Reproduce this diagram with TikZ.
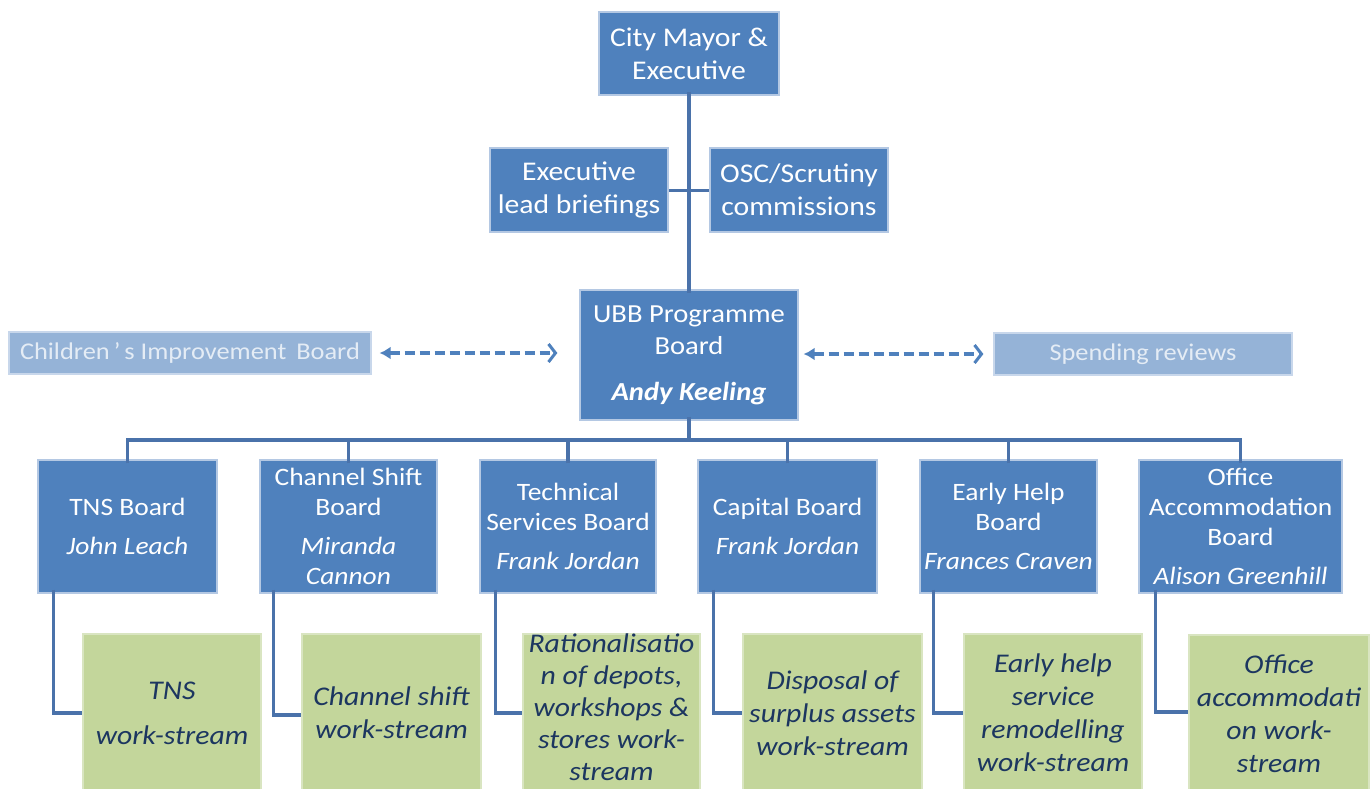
\documentclass[tikz,border=0pt]{standalone}
\usepackage{fontspec}
\setmainfont[FakeStretch=1.1]{Carlito}
\usetikzlibrary{arrows.meta}
\definecolor{boxblue}{HTML}{4F81BD}
\definecolor{boxedge}{HTML}{B4C8E3}
\definecolor{paleblue}{HTML}{95B3D7}
\definecolor{paleedge}{HTML}{C8D7EB}
\definecolor{palefg}{HTML}{E4ECF5}
\definecolor{wsgreen}{HTML}{C3D69B}
\definecolor{wsedge}{HTML}{D9E5C1}
\definecolor{wsfg}{HTML}{1C3660}
\definecolor{wire}{HTML}{4A72AA}
\tikzset{
  mainbox/.style={rectangle, fill=boxblue, draw=boxedge, line width=1.2pt,
    text=white, align=center, inner sep=1pt,
    font=\fontsize{27}{33}\selectfont},
  boardbox/.style={rectangle, fill=boxblue, draw=boxedge, line width=1.2pt,
    text=white, align=center, inner sep=1pt, minimum height=133,
    font=\fontsize{25}{30}\selectfont},
  sidebox/.style={rectangle, fill=paleblue, draw=paleedge, line width=1.2pt,
    text=palefg, align=center, inner sep=1pt, minimum height=42,
    font=\fontsize{24}{28}\selectfont},
  wsbox/.style={rectangle, fill=wsgreen, draw=wsedge, line width=1.2pt,
    text=wsfg, align=center, inner sep=1pt, minimum height=158,
    font=\fontsize{27}{33}\selectfont\itshape},
  wire/.style={draw=wire, line width=3.5pt},
  link/.style={draw=boxblue, line width=4.5pt, dash pattern=on 10pt off 5pt,
    {Latex[length=11pt,width=13pt]}-{Straight Barb[length=7pt,width=18pt,line width=3pt]}}
}
\begin{document}
\begin{tikzpicture}[x=1pt,y=-1pt]
\useasboundingbox (0,0) rectangle (1371,788);
\clip (0,0) rectangle (1371,788);
\fill[white] (0,0) rectangle (1371,788);

% top of the hierarchy
\node[mainbox, minimum width=180, minimum height=83] (mayor) at (689,53.5) {City Mayor \&\\Executive};
\node[mainbox, minimum width=178, minimum height=84] (exec) at (579,190) {Executive\\lead briefings};
\node[mainbox, minimum width=178, minimum height=84] (osc) at (799,190) {OSC/Scrutiny\\commissions};
\node[mainbox, minimum width=218, minimum height=130, font=\fontsize{26}{32}\selectfont] (ubb) at (689,355)
  {UBB Programme\\Board\\[14pt]\textbf{\textit{Andy Keeling}}};

% side bodies
\node[sidebox, minimum width=362] (child) at (190,353) {Children\,’\,s Improvement\, Board};
\node[sidebox, minimum width=298] (spend) at (1143,354) {Spending reviews};

% boards
\node[boardbox, minimum width=179] (tns) at (127.5,526.5) {TNS Board\\[9pt]\textit{John Leach}};
\node[boardbox, minimum width=177] (chan) at (348.5,526.5) {Channel Shift\\Board\\[9pt]\textit{Miranda}\\\textit{Cannon}};
\node[boardbox, minimum width=176] (tech) at (568,526.5) {Technical\\Services Board\\[9pt]\textit{Frank Jordan}};
\node[boardbox, minimum width=179] (cap) at (787.5,526.5) {Capital Board\\[9pt]\textit{Frank Jordan}};
\node[boardbox, minimum width=177] (early) at (1008.5,526.5) {Early Help\\Board\\[9pt]\textit{Frances Craven}};
\node[boardbox, minimum width=203] (office) at (1240.5,526.5) {Office\\Accommodation\\Board\\[9pt]\textit{Alison Greenhill}};

% work-streams
\node[wsbox, minimum width=178] (tnsws) at (172,713) {TNS\\[12pt]work-stream};
\node[wsbox, minimum width=179] (chanws) at (391.5,713) {Channel shift\\work-stream};
\node[wsbox, minimum width=177] (techws) at (611.5,713) {};
\node[text=wsfg, align=center, font=\fontsize{27}{32}\selectfont\itshape, anchor=north, inner sep=0pt]
  (techtxt) at (611.5,634) {Rationalisatio\\n of depots,\\workshops \&\\stores work-\\stream};
\node[wsbox, minimum width=179] (capws) at (832.5,713) {Disposal of\\surplus assets\\work-stream};
\node[wsbox, minimum width=178] (earlyws) at (1053,713) {Early help\\service\\remodelling\\work-stream};
\node[wsbox, minimum width=180] (officews) at (1279,714) {Office\\accommodati\\on work-\\stream};

% reporting line
\draw[wire] ([yshift=4]mayor.south) -- ([yshift=-4]ubb.north);
\draw[wire, line width=3pt] (exec.east) -- (osc.west);
\coordinate (bus) at (689,440);
\draw[wire] ([yshift=4]ubb.south) -- (bus);
\draw[wire] ([yshift=-4]tns.north) |- (bus) -| ([yshift=-4]office.north);
\foreach \b in {chan,tech,cap,early}
  \draw[wire] ([yshift=-4]\b.north) -- (\b.north |- bus);

% board to work-stream
\draw[wire] ([xshift=16,yshift=4]tns.south west) |- (tnsws.west);
\draw[wire] ([xshift=14,yshift=4]chan.south west) |- ([yshift=-2]chanws.west);
\draw[wire] ([xshift=16,yshift=4]tech.south west) |- (techws.west);
\draw[wire] ([xshift=16,yshift=4]cap.south west) |- (capws.west);
\draw[wire] ([xshift=14,yshift=4]early.south west) |- (earlyws.west);
\draw[wire] ([xshift=17,yshift=4]office.south west) |- ([yshift=2]officews.west);

% two-way links
\draw[link] ([xshift=8]child.east) -- ([xshift=-22]ubb.west |- child.east);
\draw[link] ([xshift=5]ubb.east |- spend.west) -- ([xshift=-10]spend.west);
\end{tikzpicture}
\end{document}
